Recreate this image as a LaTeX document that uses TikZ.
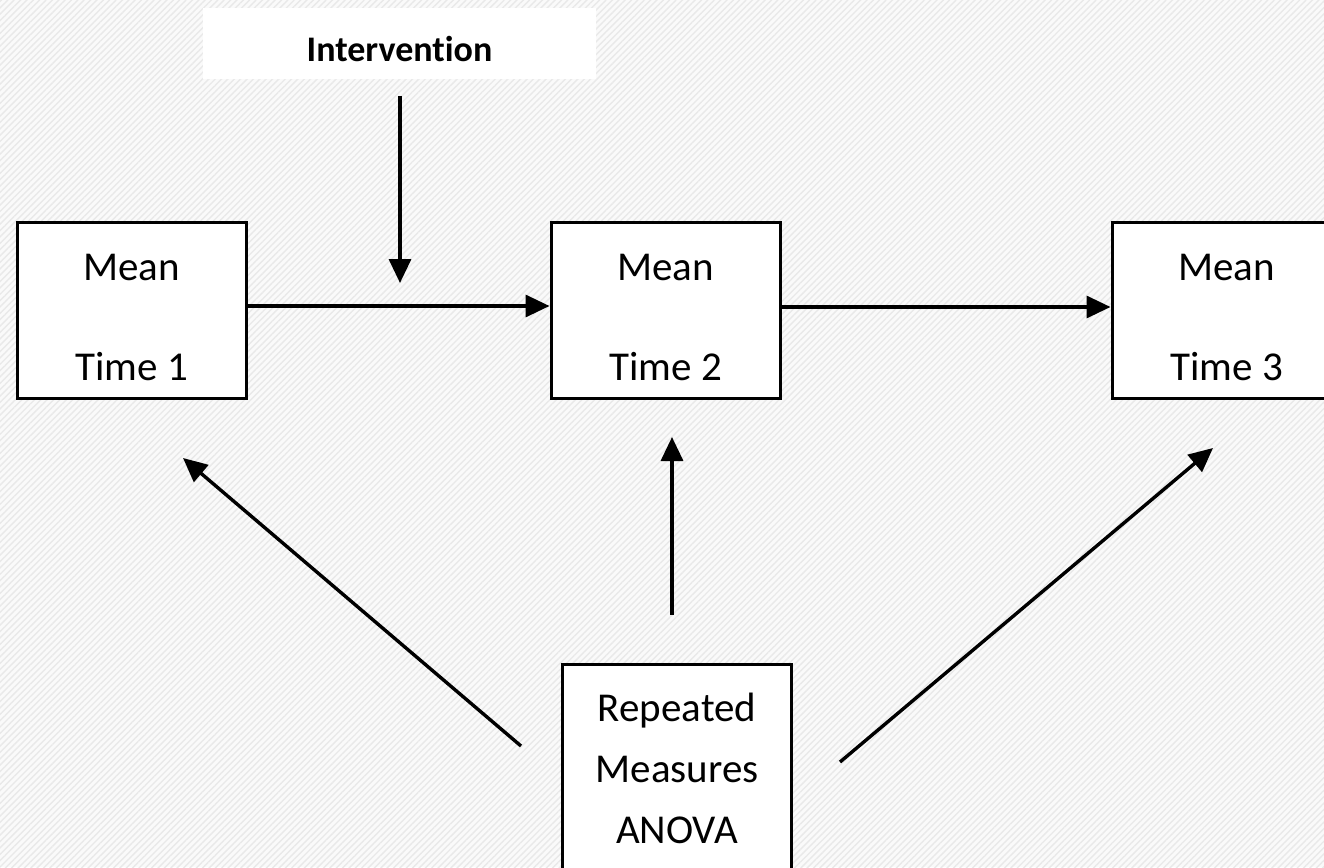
\documentclass[tikz,border=0pt]{standalone}
\usepackage{fontspec}
\setmainfont{Carlito}[Ligatures=NoCommon]
\usetikzlibrary{arrows.meta,patterns.meta}

\tikzset{
  meanbox/.style={draw=black, line width=3pt, fill=white, minimum width=229pt, minimum height=176pt, inner sep=0pt},
  txt/.style={inner sep=0pt, font=\fontsize{41}{48}\selectfont},
  boldtxt/.style={inner sep=0pt, font=\fontsize{36}{44}\selectfont\bfseries},
  conn/.style={line width=3.4pt, -{Triangle[length=24pt,width=22pt]}}
}

\begin{document}
\begin{tikzpicture}[x=1pt, y=-1pt]
  \clip (0,0) rectangle (1324,867);
  \useasboundingbox (0,0) rectangle (1324,867);

  % hatched backdrop
  \fill[gray!4] (0,0) rectangle (1324,867);
  \fill[pattern={Lines[angle=45,distance=4.5pt,line width=1.4pt]}, pattern color=gray!17]
    (0,0) rectangle (1324,867);

  % intervention label
  \node[fill=white, minimum width=393pt, minimum height=71pt, inner sep=0pt] (iv) at (399.5,43.5) {};
  \node[boldtxt, anchor=base] (ivtext) at (399.5,61) {Intervention};

  % the three means
  \node[meanbox] (b1) at (131.5,310) {};
  \node[meanbox] (b2) at (665.5,310) {};
  \node[meanbox] (b3) at (1226.5,310) {};
  \node[txt, anchor=base] (b1a) at (131.5,280) {Mean};
  \node[txt, anchor=base] (b1b) at (131.5,380) {Time 1};
  \node[txt, anchor=base] (b2a) at (665.5,280) {Mean};
  \node[txt, anchor=base] (b2b) at (665.5,380) {Time 2};
  \node[txt, anchor=base] (b3a) at (1226.5,280) {Mean};
  \node[txt, anchor=base] (b3b) at (1226.5,380) {Time 3};

  % analysis box
  \node[meanbox, minimum height=260pt] (rm) at (677,794) {};
  \node[txt, anchor=base] (rma) at (677,721) {Repeated};
  \node[txt, anchor=base] (rmb) at (677,782) {Measures};
  \node[txt, anchor=base] (rmc) at (677,843) {ANOVA};

  % arrow ends away from the boxes
  \coordinate (ivfrom) at (400,96);
  \coordinate (ivto) at (400,283);
  \coordinate (lfrom) at (521,746);
  \coordinate (lto) at (183,458);
  \coordinate (mfrom) at (672,615);
  \coordinate (mto) at (672,437);
  \coordinate (rfrom) at (840,762);
  \coordinate (rto) at (1213,448);

  % connectors
  \draw[conn] (ivfrom) -- (ivto);
  \draw[conn] ([yshift=4pt]b1.east) -- ([yshift=4pt]b2.west);
  \draw[conn] ([yshift=3pt]b2.east) -- ([yshift=3pt]b3.west);
  \draw[conn] (lfrom) -- (lto);
  \draw[conn] (mfrom) -- (mto);
  \draw[conn] (rfrom) -- (rto);
\end{tikzpicture}
\end{document}
